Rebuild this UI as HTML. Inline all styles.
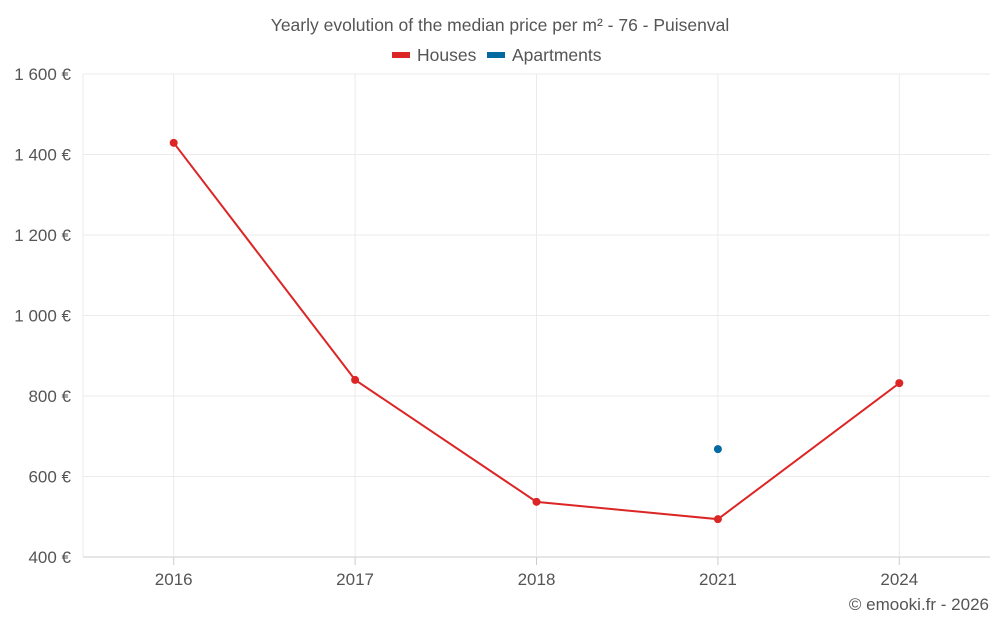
<!DOCTYPE html>
<html><head><meta charset="utf-8"><style>
body{margin:0;background:#fff;font-family:"Liberation Sans",sans-serif;}
svg text{font-family:"Liberation Sans",sans-serif;fill:#555;}
</style></head><body>
<svg id="chart" width="1000" height="625" xmlns="http://www.w3.org/2000/svg">
<text x="500" y="31" text-anchor="middle" font-size="17.5">Yearly evolution of the median price per m² - 76 - Puisenval</text>
<g>
<g><rect x="392" y="52" width="18" height="6" fill="#dc2626"/><text x="417" y="61" font-size="17.5">Houses</text></g>
<g><rect x="487" y="52" width="18" height="6" fill="#0369a1"/><text x="512" y="61" font-size="17.5">Apartments</text></g>
</g>
<g id="grid"></g><g id="axes"></g><g id="series"></g>
<text x="989" y="610" text-anchor="end" font-size="17">© emooki.fr - 2026</text>
</svg>
<script>
const categories=["2016","2017","2018","2021","2024"];
const houses=[1429,840,537,494,832];
const apartments=[null,null,null,668,null];
const yTicks=[400,600,800,1000,1200,1400,1600];
const yTickLabels=["400 €","600 €","800 €","1 000 €","1 200 €","1 400 €","1 600 €"];
const L=83,R=990,T=74,B=557,ymin=400,ymax=1600;
const NS="http://www.w3.org/2000/svg";
const bw=(R-L)/categories.length;
const xs=i=>L+bw*(i+0.5);
const ys=v=>B-(v-ymin)/(ymax-ymin)*(B-T);
function mk(tag,attrs,parent){const e=document.createElementNS(NS,tag);for(const k in attrs)e.setAttribute(k,attrs[k]);document.getElementById(parent).appendChild(e);return e;}
yTicks.forEach((v,i)=>{
 const g=mk('line',{x1:L,x2:R,y1:ys(v),y2:ys(v),stroke:i===0?'#ccc':'#ebebeb','stroke-width':1},'grid');
 
 
 const t=mk('text',{x:71,y:ys(v)+6,'text-anchor':'end','font-size':17},'axes');
 t.textContent=yTickLabels[i];
 
 
});
const edge=mk('line',{x1:L,x2:L,y1:T,y2:B,stroke:'#ebebeb'},'grid');


categories.forEach((c,i)=>{
 const g=mk('line',{x1:xs(i),x2:xs(i),y1:T,y2:B,stroke:'#ebebeb'},'grid');
 
 
 const tk=mk('line',{x1:xs(i),x2:xs(i),y1:B,y2:B+8,stroke:'#ccc'},'axes');
 
 
 const t=mk('text',{x:xs(i),y:585,'text-anchor':'middle','font-size':17},'axes');
 t.textContent=c;
 
 
});
function series(vals,color,name){
 const pts=vals.map((v,i)=>v==null?null:[xs(i),ys(v)]).filter(p=>p);
 if(pts.length>1){const p=mk('polyline',{points:pts.map(p=>p.join(',')).join(' '),fill:'none',stroke:color,'stroke-width':2},'series');
 
 }
 pts.forEach(p=>{const c=mk('circle',{cx:p[0],cy:p[1],r:4,fill:color},'series');
 
 });
}
series(houses,'#dc2626','houses');
series(apartments,'#0369a1','apartments');
</script>
</body></html>
